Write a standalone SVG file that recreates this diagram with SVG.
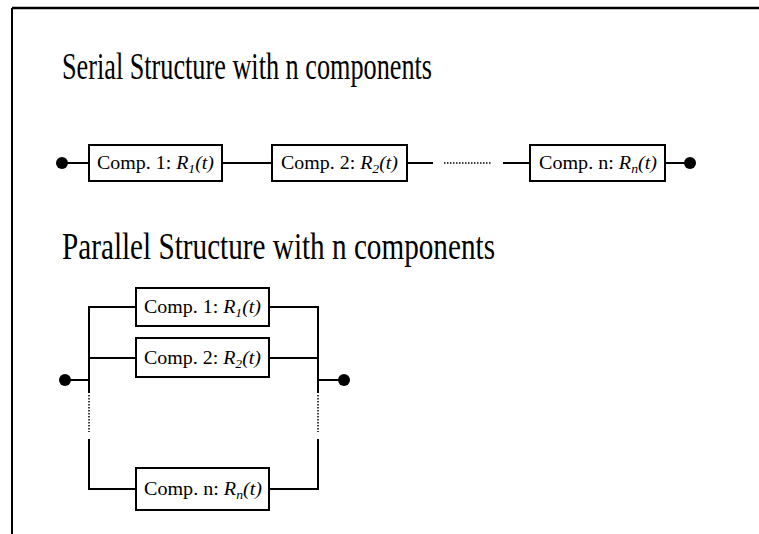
<svg xmlns="http://www.w3.org/2000/svg" width="759" height="534" viewBox="0 0 759 534">
<style>
.box{fill:#fff;stroke:#000;stroke-width:2}
.ln{fill:none;stroke:#000;stroke-width:2}
.dot{fill:none;stroke:#000;stroke-width:1.5;stroke-dasharray:1.5 1.5}
.pt{fill:#000}
.ttl{font-family:"Liberation Serif","Times New Roman",serif;font-size:37px;fill:#000}
.lbl{font-family:"Liberation Serif","Times New Roman",serif;font-size:19px;fill:#000}
.it{font-style:italic}
</style>
<rect width="759" height="534" fill="#fff"/>
<g id="frame">
<line x1="12" y1="8" x2="759" y2="8" stroke="#000" stroke-width="2.5"/>
<line x1="12" y1="8" x2="12" y2="534" stroke="#000" stroke-width="2"/>
</g>
<text class="ttl" x="62" y="79" textLength="370" lengthAdjust="spacingAndGlyphs">Serial Structure with n components</text>
<text class="ttl" x="62" y="259" textLength="433" lengthAdjust="spacingAndGlyphs">Parallel Structure with n components</text>
<g id="connectors">
<circle class="pt" cx="62" cy="163" r="6"/>
<line class="ln" x1="62" y1="163" x2="89" y2="163"/>
<line class="ln" x1="222" y1="163" x2="272" y2="163"/>
<line class="ln" x1="407" y1="163" x2="433" y2="163"/>
<line class="dot" x1="444" y1="163" x2="492" y2="163"/>
<line class="ln" x1="503" y1="163" x2="530" y2="163"/>
<line class="ln" x1="665" y1="163" x2="690" y2="163"/>
<circle class="pt" cx="690" cy="163" r="6"/>
<circle class="pt" cx="65" cy="380" r="6"/>
<line class="ln" x1="65" y1="380" x2="89" y2="380"/>
<polyline class="ln" points="136,307 89,307 89,393"/>
<line class="ln" x1="89" y1="358" x2="136" y2="358"/>
<line class="dot" x1="89" y1="395" x2="89" y2="432"/>
<polyline class="ln" points="89,439 89,489 136,489"/>
<polyline class="ln" points="269,307 318,307 318,393"/>
<line class="ln" x1="269" y1="358" x2="318" y2="358"/>
<line class="ln" x1="318" y1="380" x2="344" y2="380"/>
<circle class="pt" cx="344" cy="380" r="6"/>
<line class="dot" x1="318" y1="395" x2="318" y2="432"/>
<polyline class="ln" points="318,439 318,489 269,489"/>
</g>
<g id="s1"><rect class="box" x="89" y="145" width="133" height="36"/><text class="lbl" x="97" y="169" textLength="117" lengthAdjust="spacingAndGlyphs">Comp. 1: <tspan class="it">R</tspan><tspan class="it" font-size="13" dy="4">1</tspan><tspan class="it" dy="-4">(t)</tspan></text></g>
<g id="s2"><rect class="box" x="272" y="145" width="135" height="36"/><text class="lbl" x="281" y="169" textLength="117" lengthAdjust="spacingAndGlyphs">Comp. 2: <tspan class="it">R</tspan><tspan class="it" font-size="13" dy="4">2</tspan><tspan class="it" dy="-4">(t)</tspan></text></g>
<g id="sn"><rect class="box" x="530" y="145" width="135" height="36"/><text class="lbl" x="539" y="169" textLength="118" lengthAdjust="spacingAndGlyphs">Comp. n: <tspan class="it">R</tspan><tspan class="it" font-size="13" dy="4">n</tspan><tspan class="it" dy="-4">(t)</tspan></text></g>
<g id="p1"><rect class="box" x="136" y="288" width="133" height="38"/><text class="lbl" x="144" y="313" textLength="117" lengthAdjust="spacingAndGlyphs">Comp. 1: <tspan class="it">R</tspan><tspan class="it" font-size="13" dy="4">1</tspan><tspan class="it" dy="-4">(t)</tspan></text></g>
<g id="p2"><rect class="box" x="136" y="338" width="133" height="39"/><text class="lbl" x="144" y="364" textLength="117" lengthAdjust="spacingAndGlyphs">Comp. 2: <tspan class="it">R</tspan><tspan class="it" font-size="13" dy="4">2</tspan><tspan class="it" dy="-4">(t)</tspan></text></g>
<g id="pn"><rect class="box" x="136" y="468" width="133" height="42"/><text class="lbl" x="144" y="495" textLength="118" lengthAdjust="spacingAndGlyphs">Comp. n: <tspan class="it">R</tspan><tspan class="it" font-size="13" dy="4">n</tspan><tspan class="it" dy="-4">(t)</tspan></text></g>
</svg>
